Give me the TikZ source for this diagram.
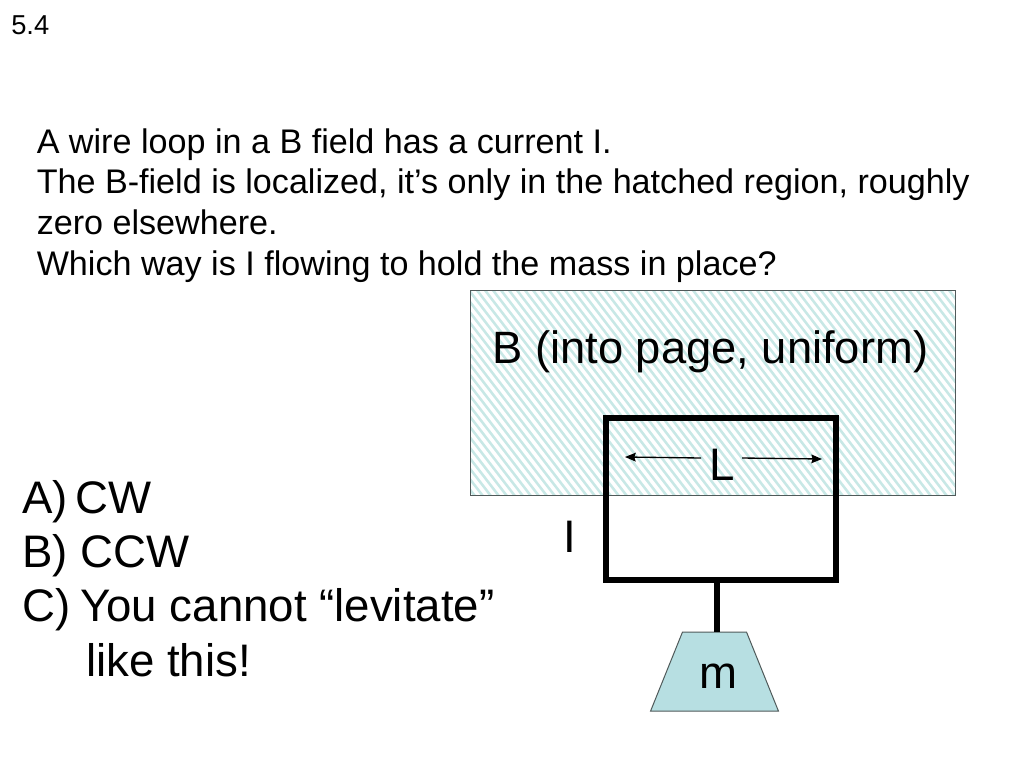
\documentclass[tikz,border=0pt]{standalone}
\usepackage{fontspec}
\setmainfont{Liberation Sans}
\usetikzlibrary{shapes.geometric,arrows.meta}
\definecolor{hatch}{RGB}{200,232,230}
\definecolor{massfill}{RGB}{183,223,226}
\definecolor{edge}{RGB}{80,90,90}
\tikzset{
  txt/.style={anchor=base west,inner sep=0pt,font=\fontsize{25.6}{25.6}\selectfont},
  big/.style={anchor=base west,inner sep=0pt,font=\fontsize{34.2}{34.2}\selectfont},
  wire/.style={draw=black,line width=3.8pt},
  dim/.style={line width=1pt,-{Stealth[length=8pt,width=6.5pt,inset=1pt]}}
}
\begin{document}
\begin{tikzpicture}[x=0.75pt,y=-0.75pt]
\useasboundingbox (0,0) rectangle (1024,768);
\fill[white] (0,0) rectangle (1024,768);
\node[txt,font=\fontsize{20.5}{20.5}\selectfont] (num) at (11,34) {5.4};
\node[txt] (l1) at (36.5,153) {A wire loop in a B field has a current I.};
\node[txt] (l2) at (36.5,193) {The B-field is localized, it’s only in the hatched region, roughly};
\node[txt] (l3) at (36.5,234) {zero elsewhere.};
\node[txt] (l4) at (36.5,275) {Which way is I flowing to hold the mass in place?};
% field
\begin{scope}
\clip (470,290) rectangle (955,495);
\foreach \k in {0,...,92} {
  \draw[hatch,line width=1.9pt] ({225+8*\k},285) -- ({225+8*\k+165},500);
}
\end{scope}
\node[draw=edge,line width=0.75pt,minimum width=363.75pt,minimum height=153.75pt,inner sep=0pt] (field) at (712.5,392.5) {};
\node[big,font=\fontsize{34}{34}\selectfont] (btext) at (492,363) {B (into page, uniform)};
% loop
\node[wire,minimum width=172.5pt,minimum height=121.5pt,inner sep=0pt] (loop) at (721,499) {};
\node[trapezium,trapezium stretches body=true,trapezium left angle=68,trapezium right angle=68,draw=edge,line width=0.75pt,fill=massfill,inner sep=0pt] (mass) at (714.5,671.5) {\phantom{\rule{48pt}{59.25pt}}};
\coordinate (stemtop) at (717,580);
\coordinate (stembot) at (717,632);
\draw[wire] (stemtop) -- (stembot);
\node[big,anchor=base] (mlabel) at (718,688) {m};
\node[big,anchor=base,minimum width=30.75pt] (L) at (722,480) {L};
\coordinate (Lleft) at (625,457);
\coordinate (Lright) at (822,459);
\draw[dim] (701,458) -- (Lleft);
\draw[dim] (742,458) -- (Lright);
\node[big,anchor=base] (I) at (570,552) {I};
% choices
\node[big] (a) at (22,513) {A)};
\node[big] (acw) at (75,513) {CW};
\node[big] (b) at (22,567) {B) CCW};
\node[big] (c) at (22,621) {C)\hspace{-2pt} You cannot “levitate”};
\node[big] (d) at (86,676) {like this!};
\end{tikzpicture}
\end{document}
